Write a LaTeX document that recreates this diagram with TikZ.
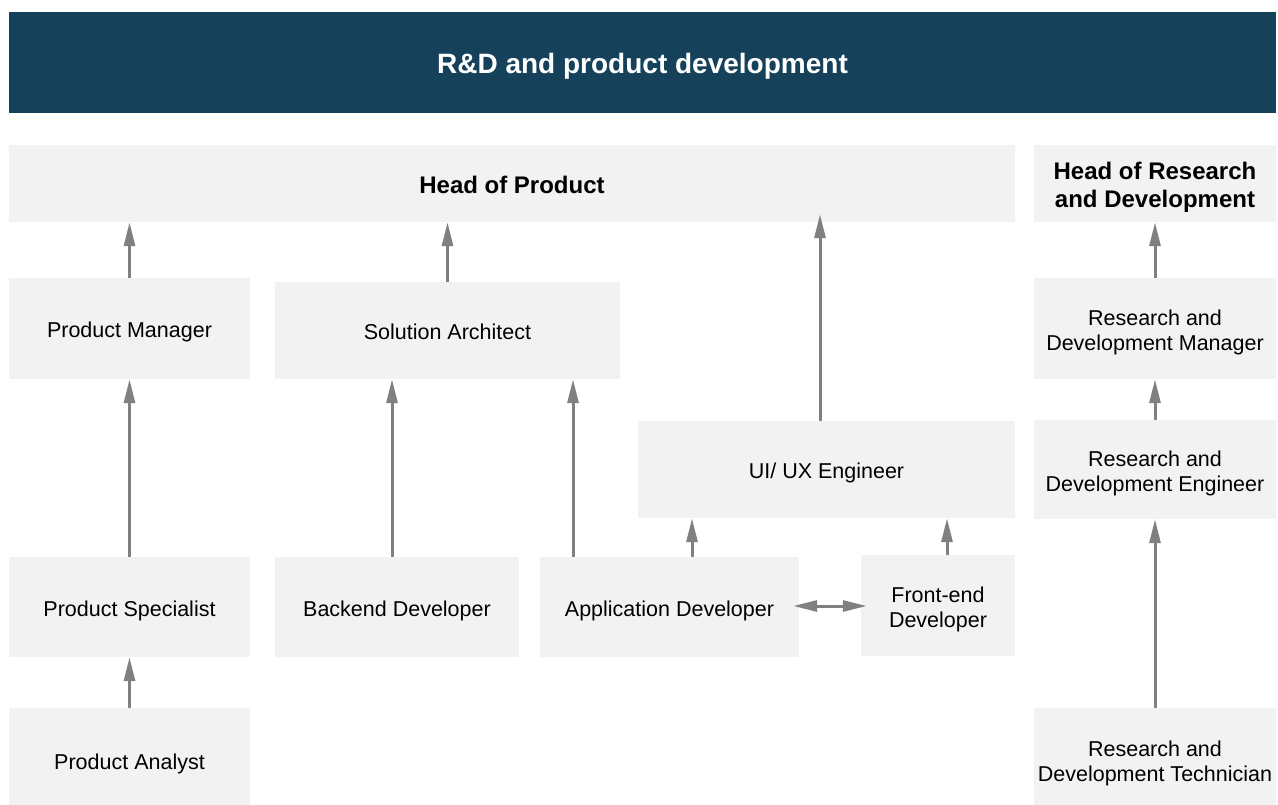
\documentclass[tikz,border=0pt]{standalone}
\usepackage{fontspec}
\setmainfont{Liberation Sans}
\usepackage{tikz}
\usetikzlibrary{arrows.meta,positioning}
\definecolor{bannerteal}{HTML}{15425A}
\definecolor{boxgray}{HTML}{F2F2F2}
\definecolor{linkgray}{HTML}{808080}
\newcommand{\linestrut}[2]{\rule[-#2]{0pt}{\dimexpr#1+#2\relax}}
\tikzset{
  plainbox/.style={rectangle, fill=boxgray, inner sep=0pt, align=center, text=black},
  rolebox/.style={
    plainbox, font=\fontsize{21.5}{25}\selectfont,
    execute at begin node={\linestrut{24pt}{6pt}},
    execute at end node={\linestrut{24pt}{6pt}}
  },
  % two lines: the strut has to reach the first line too
  tworole/.style={rolebox, execute at begin node={\linestrut{49pt}{6pt}}},
  headbox/.style={
    plainbox, font=\fontsize{24}{28}\selectfont\bfseries,
    execute at begin node={\linestrut{26pt}{6pt}},
    execute at end node={\linestrut{26pt}{6pt}}
  },
  twohead/.style={headbox, execute at begin node={\linestrut{54pt}{6pt}}},
  titlebar/.style={
    rectangle, fill=bannerteal, inner sep=0pt, align=center,
    font=\fontsize{28}{32}\selectfont\bfseries, text=white,
    execute at begin node={\linestrut{28pt}{5pt}},
    execute at end node={\linestrut{28pt}{5pt}}
  },
  reportarrow/.style={-{Triangle[length=24pt,width=11pt]}, line width=3pt, color=linkgray},
  pairarrow/.style={{Triangle[length=24pt,width=11pt]}-{Triangle[length=24pt,width=11pt]}, line width=3pt, color=linkgray},
}
\begin{document}
\begin{tikzpicture}[x=1pt,y=-1pt]
  \useasboundingbox (0,0) rectangle (1278,804);

  \node[titlebar, minimum width=1267pt, minimum height=101pt] (banner) at (642.5,62.5) {R\&D and product development};

  % heads
  \node[headbox, minimum width=1006pt, minimum height=77pt] (headprod) at (512,183.5) {Head of Product};
  \node[twohead, minimum width=242pt, minimum height=77pt] (headrd) at (1155,183.5) {Head of Research\\and Development};

  % product side
  \node[rolebox, minimum width=241pt, minimum height=101pt] (prodmgr) at (129.5,328.5) {Product Manager};
  \node[rolebox, minimum width=345pt, minimum height=97pt] (solarch) at (447.5,330.5) {Solution Architect};
  \node[rolebox, minimum width=377pt, minimum height=97pt] (uiux) at (826.5,469.5) {UI/ UX Engineer};
  \node[rolebox, minimum width=241pt, minimum height=100pt] (prodspec) at (129.5,607) {Product Specialist};
  \node[rolebox, minimum width=244pt, minimum height=100pt] (backend) at (397,607) {Backend Developer};
  \node[rolebox, minimum width=259pt, minimum height=100pt] (appdev) at (669.5,607) {Application Developer};
  \node[tworole, minimum width=154pt, minimum height=101pt] (frontend) at (938,605.5) {Front-end\\Developer};
  % bottom row runs past the page edge
  \node[rolebox, minimum width=241pt, minimum height=104pt] (prodanal) at (129.5,760) {Product Analyst};

  % research side
  \node[tworole, minimum width=242pt, minimum height=101pt] (rdmgr) at (1155,328.5) {Research and\\Development Manager};
  \node[tworole, minimum width=242pt, minimum height=99pt] (rdeng) at (1155,469.5) {Research and\\Development Engineer};
  \node[tworole, minimum width=242pt, minimum height=104pt] (rdtech) at (1155,760) {Research and\\Development Technician};

  \draw[reportarrow] (prodanal.north) -- (prodspec.south);
  \draw[reportarrow] (prodspec.north) -- (prodmgr.south);
  \draw[reportarrow] (prodmgr.north) -- (prodmgr.north |- headprod.south);
  \draw[reportarrow] (solarch.north) -- (solarch.north |- headprod.south);
  \draw[reportarrow] ([xshift=-5pt]backend.north) -- ([xshift=-5pt]backend.north |- solarch.south);
  \draw[reportarrow] ([xshift=-96.5pt]appdev.north) -- ([xshift=-96.5pt]appdev.north |- solarch.south);
  \draw[reportarrow] ([xshift=22.5pt]appdev.north) -- ([xshift=22.5pt]appdev.north |- uiux.south);
  \draw[reportarrow] ([xshift=9pt]frontend.north) -- ([xshift=9pt]frontend.north |- uiux.south);
  \draw[reportarrow] ([xshift=-6.5pt]uiux.north) -- ([xshift=-6.5pt,yshift=8pt]uiux.north |- headprod.south);
  \draw[pairarrow, shorten <=-6pt, shorten >=-6pt] ([yshift=1pt]appdev.east) -- ([yshift=1pt]appdev.east -| frontend.west);

  \draw[reportarrow] (rdmgr.north) -- (headrd.south);
  \draw[reportarrow] (rdeng.north) -- (rdmgr.south);
  \draw[reportarrow] (rdtech.north) -- (rdeng.south);
\end{tikzpicture}
\end{document}
